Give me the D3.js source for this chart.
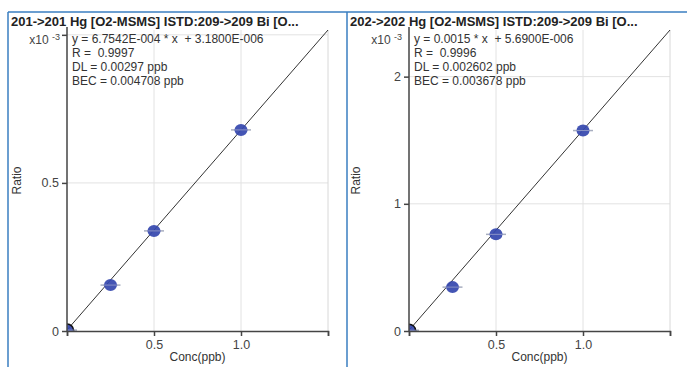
<!DOCTYPE html>
<html>
<head>
<meta charset="utf-8">
<script src="https://cdn.jsdelivr.net/npm/d3@7"></script>
<style>
  body { margin: 0; background: #fff; }
  text { font-family: "Liberation Sans", Arial, sans-serif; fill: #333; white-space: pre; }
</style>
</head>
<body>
<script>
// calibration levels (ppb)
var conc = [0, 0.25, 0.5, 1.0];

var ratio201 = [0.000003, 0.000155, 0.000338, 0.000679];
var ratio202 = [0.0000057, 0.000345, 0.00076, 0.001576];

// fit: [slope, intercept]
var fit201 = [6.7542e-4, 3.18e-6];
var fit202 = [1.574e-3, 5.69e-6];

var titles = ["201->201 Hg [O2-MSMS] ISTD:209->209 Bi [O...",
              "202->202 Hg [O2-MSMS] ISTD:209->209 Bi [O..."];
var eqLabels = [
  ["y = 6.7542E-004 * x  + 3.1800E-006", "R =  0.9997", "DL = 0.00297 ppb", "BEC = 0.004708 ppb"],
  ["y = 0.0015 * x  + 5.6900E-006", "R =  0.9996", "DL = 0.002602 ppb", "BEC = 0.003678 ppb"]
];
var xTicks = [0, 0.5, 1.0, 1.5];
var xTickLabels = ["", "0.5", "1.0", ""];
var yTicks = [[0, 0.5, 1.0], [0, 1, 2]];
var yTickLabels = [["0", "0.5", ""], ["0", "1", "2"]];

var W = 687, H = 367;
var svg = d3.select("body").append("svg")
    .attr("width", W)
    .attr("height", H);

var panels = [
  {x0: 8, plotLeft: 67, plotRight: 328, ratio: ratio201, fit: fit201},
  {x0: 347, plotLeft: 409, plotRight: 670, ratio: ratio202, fit: fit202}
];
var plotTop = 30, plotBottom = 331;

panels.forEach(function(p, i) {
  var g = svg.append("g");

  // panel frame (blue left and top edges)
  g.append("line")
    .attr("x1", p.x0).attr("x2", p.x0)
    .attr("y1", 12).attr("y2", H)
    .attr("stroke", "#3a7ec0").attr("stroke-width", 1.5);
  g.append("line")
    .attr("x1", p.x0).attr("x2", i == 0 ? 347 : W)
    .attr("y1", 12).attr("y2", 12)
    .attr("stroke", "#3a7ec0").attr("stroke-width", 1.5);

  g.append("text")
    .attr("x", p.x0 + 3)
    .attr("y", 26)
    .style("font-size", "13px")
    .style("font-weight", "bold")
    .style("fill", "#222")
    .text(titles[i]);

  var x = d3.scaleLinear().domain([0, 1.5]).range([p.plotLeft, p.plotRight]);
  var top = p.fit[0] * 1.5 + p.fit[1];
  var y = d3.scaleLinear().domain([0, top * 1000]).range([plotBottom, plotTop]);

  // grid
  g.selectAll(".vg").data([0.5, 1.0]).enter().append("line")
    .attr("x1", function(d) { return x(d); }).attr("x2", function(d) { return x(d); })
    .attr("y1", plotTop).attr("y2", plotBottom)
    .attr("stroke", "#e2e2e2");
  g.selectAll(".hg").data(yTicks[i].slice(1)).enter().append("line")
    .attr("x1", p.plotLeft).attr("x2", p.plotRight)
    .attr("y1", function(d) { return y(d); }).attr("y2", function(d) { return y(d); })
    .attr("stroke", "#e2e2e2");
  g.append("line")
    .attr("x1", p.plotRight).attr("x2", p.plotRight)
    .attr("y1", plotTop).attr("y2", plotBottom)
    .attr("stroke", "#d8d8d8");

  // clip for markers at origin
  var clipId = "clip" + i;
  svg.append("clipPath").attr("id", clipId)
    .append("rect")
      .attr("x", p.plotLeft).attr("y", plotTop - 10)
      .attr("width", p.plotRight - p.plotLeft + 10)
      .attr("height", plotBottom - plotTop + 10);

  var plot = g.append("g").attr("clip-path", "url(#" + clipId + ")");

  // fit line
  plot.append("line")
    .attr("x1", x(0)).attr("y1", y(p.fit[1] * 1000))
    .attr("x2", x(1.5)).attr("y2", y(top * 1000))
    .attr("stroke", "#333").attr("stroke-width", 1);

  var pts = conc.map(function(c, k) { return {c: c, r: p.ratio[k] * 1000}; });

  plot.selectAll(".err").data(pts).enter().append("line")
    .attr("x1", function(d) { return x(d.c) - 10; })
    .attr("x2", function(d) { return x(d.c) + 10; })
    .attr("y1", function(d) { return y(d.r); })
    .attr("y2", function(d) { return y(d.r); })
    .attr("stroke", "#a8aec0").attr("stroke-width", 1.5);

  plot.selectAll(".pt").data(pts).enter().append("ellipse")
    .attr("cx", function(d) { return x(d.c); })
    .attr("cy", function(d) { return y(d.r); })
    .attr("rx", 6.5).attr("ry", 6)
    .attr("fill", "#3447ae")
    .attr("fill-opacity", 0.92)
    .attr("stroke", function(d) { return d.c == 0 ? "#111" : "none"; })
    .attr("stroke-width", 1.5);

  plot.selectAll(".err2").data(pts).enter().append("line")
    .attr("x1", function(d) { return x(d.c) - 7; })
    .attr("x2", function(d) { return x(d.c) + 7; })
    .attr("y1", function(d) { return y(d.r); })
    .attr("y2", function(d) { return y(d.r); })
    .attr("stroke", "#8c95c8").attr("stroke-width", 1);

  // axes
  var xAxis = d3.axisBottom(x).tickValues(xTicks)
      .tickFormat(function(d, k) { return xTickLabels[k]; })
      .tickSizeOuter(0).tickSize(5).tickPadding(4);
  var gx = g.append("g")
      .attr("transform", "translate(0," + plotBottom + ")")
      .call(xAxis);
  gx.select(".domain").attr("stroke", "#444").attr("stroke-width", 1.5);
  gx.selectAll(".tick line").attr("stroke", "#444").attr("stroke-width", 1.5);
  gx.selectAll("text").style("font-size", "12.5px").style("fill", "#444")
    .style("font-family", "Liberation Sans, Arial, sans-serif");

  var yAxis = d3.axisLeft(y).tickValues(yTicks[i])
      .tickFormat(function(d, k) { return yTickLabels[i][k]; })
      .tickSizeOuter(0).tickSize(5).tickPadding(3);
  var gy = g.append("g")
      .attr("transform", "translate(" + p.plotLeft + ",0)")
      .call(yAxis);
  gy.select(".domain").attr("stroke", "#444").attr("stroke-width", 1.5)
    .attr("d", "M0," + plotBottom + "V" + (plotTop - 3));
  gy.selectAll(".tick line").attr("stroke", "#444").attr("stroke-width", 1.5);
  gy.selectAll("text").style("font-size", "12.5px").style("fill", "#444")
    .style("font-family", "Liberation Sans, Arial, sans-serif");

  // exponent label
  var ex = g.append("text")
    .attr("x", p.plotLeft - 7)
    .attr("y", 44)
    .attr("text-anchor", "end")
    .style("font-size", "12px")
    .style("fill", "#444");
  ex.append("tspan").text("x10 ");
  ex.append("tspan").attr("dy", -4).style("font-size", "9px").text("-3");

  // fit info
  eqLabels[i].forEach(function(s, k) {
    g.append("text")
      .attr("x", p.plotLeft + 5)
      .attr("y", 43 + k * 14)
      .style("font-size", "12px")
      .style("fill", "#333")
      .text(s);
  });

  g.append("text")
    .attr("transform", "translate(" + (p.x0 + 13) + "," + ((plotTop + plotBottom) / 2) + ") rotate(-90)")
    .attr("text-anchor", "middle")
    .style("font-size", "12px")
    .text("Ratio");

  g.append("text")
    .attr("x", (p.plotLeft + p.plotRight) / 2)
    .attr("y", 361)
    .attr("text-anchor", "middle")
    .style("font-size", "12px")
    .text("Conc(ppb)");
});
</script>
</body>
</html>
